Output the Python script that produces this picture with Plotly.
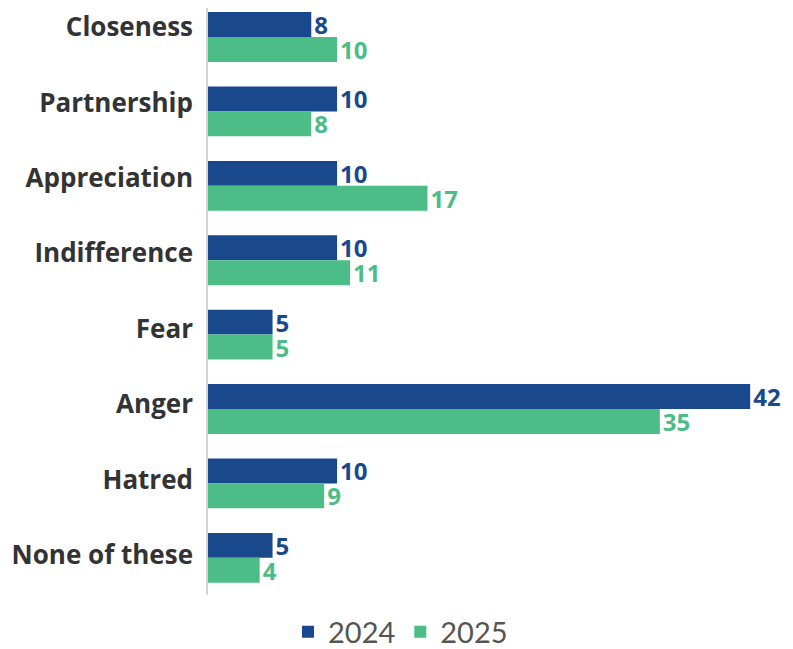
import plotly.graph_objects as go

categories = ["Closeness", "Partnership", "Appreciation", "Indifference", "Fear", "Anger", "Hatred", "None of these"]
values_2024 = [8, 10, 10, 10, 5, 42, 10, 5]
values_2025 = [10, 8, 17, 11, 5, 35, 9, 4]
series_names = ["2024", "2025"]
colors = ["#19488c", "#4cbd87"]

fig = go.Figure()
for name, vals, col in zip(series_names, [values_2024, values_2025], colors):
    fig.add_trace(go.Bar(
        y=categories, x=vals, name=name, orientation="h",
        marker=dict(color=col, line=dict(width=0)),
        text=[str(v) for v in vals], textposition="outside", constraintext="none",
        textfont=dict(family="Open Sans", size=24, color=col, weight="bold"),
        cliponaxis=False,
    ))

# invisible helper trace that carries the category labels on a second axis
fig.add_trace(go.Scatter(
    y=categories, x=[0] * len(categories), yaxis="y2", mode="markers",
    marker=dict(opacity=0, size=1), showlegend=False, hoverinfo="skip",
))

fig.update_layout(
    width=785, height=641,
    margin=dict(l=200, r=17, t=0, b=54, autoexpand=False),
    paper_bgcolor="white", plot_bgcolor="white",
    barmode="group", bargap=0.33, bargroupgap=0,
    showlegend=True,
    legend=dict(orientation="h", xref="container", yref="paper",
                x=0.5, xanchor="center", y=-0.063, yanchor="middle",
                font=dict(family="Lato", size=29, color="#555555"),
                traceorder="normal", itemwidth=30),
    xaxis=dict(range=[0, 44], visible=False, fixedrange=True, automargin=False),
    yaxis=dict(categoryorder="array", categoryarray=categories, range=[7.5, -0.39],
               showline=True, linecolor="#d4d4d4", linewidth=2, automargin=False,
               ticks="", showticklabels=False, showgrid=False),
    yaxis2=dict(categoryorder="array", categoryarray=categories, range=[7.527, -0.252],
                overlaying="y", anchor="x", side="left", showline=False, showgrid=False,
                automargin=False, ticks="", ticklabelstandoff=14,
                tickfont=dict(family="Open Sans", size=26, color="#333333", weight="bold")),
)

fig.write_html("out.html")
